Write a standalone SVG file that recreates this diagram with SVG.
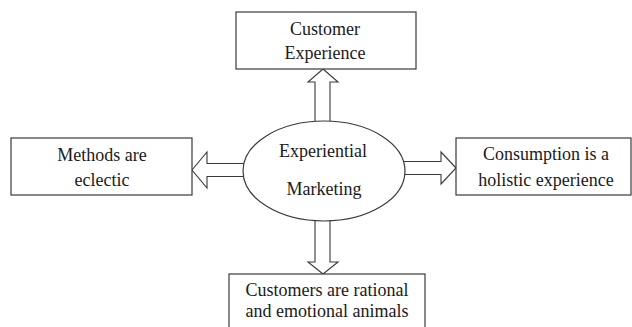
<svg xmlns="http://www.w3.org/2000/svg" width="632" height="327" viewBox="0 0 632 327">
<style>
.box{fill:#fff;stroke:#3a3a3a;stroke-width:1.2}
.arr{fill:#fff;stroke:#3a3a3a;stroke-width:1.1;stroke-linejoin:miter}
text{font-family:"Liberation Serif","Times New Roman",serif;font-size:18px;fill:#1a1a1a;text-anchor:middle}
</style>
<rect width="632" height="327" fill="#fff"/>
<g id="connectors">
<polygon class="arr" points="323,69 338,82 330,82 330,124 315,124 315,82 308,82"/>
<polygon class="arr" points="323,274 338,262 330,262 330,216 315,216 315,262 308,262"/>
<polygon class="arr" points="192,170 207,152 207,163.5 248,163.5 248,176.5 207,176.5 207,188"/>
<polygon class="arr" points="456,168 441,152 441,161.5 401,161.5 401,174.5 441,174.5 441,184"/>
</g>
<g id="center">
<ellipse cx="324" cy="171" rx="81" ry="50" fill="#fff" stroke="#3a3a3a" stroke-width="1.2"/>
<text x="323" y="157">Experiential</text>
<text x="324" y="195">Marketing</text>
</g>
<g id="top">
<rect class="box" x="236" y="12" width="180" height="57"/>
<text x="325" y="35">Customer</text>
<text x="325" y="59">Experience</text>
</g>
<g id="left">
<rect class="box" x="11" y="138" width="181" height="57"/>
<text x="102" y="161">Methods are</text>
<text x="102" y="186">eclectic</text>
</g>
<g id="right">
<rect class="box" x="456" y="138" width="175" height="57"/>
<text x="546" y="160">Consumption is a</text>
<text x="546" y="186">holistic experience</text>
</g>
<g id="bottom">
<rect class="box" x="229" y="274" width="196" height="60"/>
<text x="327" y="296">Customers are rational</text>
<text x="327" y="317">and emotional animals</text>
</g>
</svg>
